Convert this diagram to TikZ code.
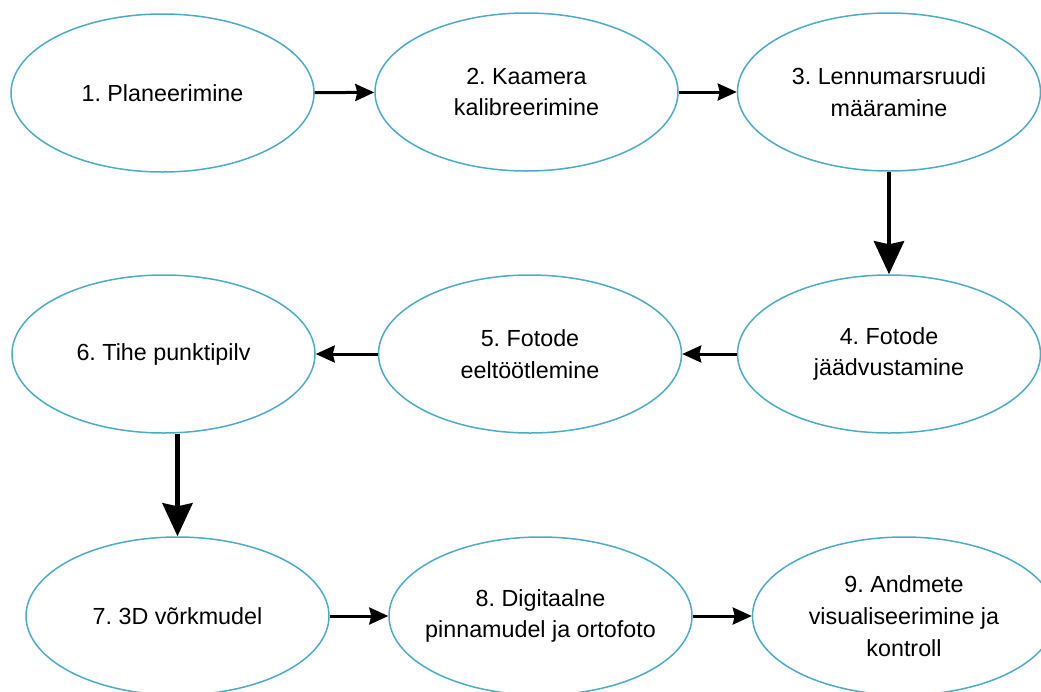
\documentclass[tikz,border=0pt]{standalone}
\usepackage{fontspec}
\setmainfont{Liberation Sans}
\frenchspacing
\usetikzlibrary{shapes.geometric,arrows.meta}
\definecolor{ringblue}{HTML}{4BACC6}
\tikzset{
  stage/.style={ellipse,draw=ringblue,line width=1.5pt,minimum width=303pt,minimum height=158pt,
    inner xsep=-40pt,inner ysep=0pt,align=center,font=\fontsize{23.3}{31.7}\selectfont},
  flow/.style={line width=3pt,-{Stealth[length=19pt,width=17pt,inset=2pt]}},
  bigflow/.style={line width=4.5pt,-{Stealth[length=33pt,width=30pt,inset=3pt]}}
}
\begin{document}
\begin{tikzpicture}[x=1pt,y=-1pt]
\useasboundingbox (0,0) rectangle (1041,691);
%first row
\node[stage] (plan) at (162.5,93) {1. Planeerimine};
\node[stage] (calib) at (526.5,92) {2. Kaamera\\kalibreerimine};
\node[stage] (route) at (889,92) {3. Lennumarsruudi\\määramine};
%second row
\node[stage] (shoot) at (889,354) {4. Fotode\\jäädvustamine};
\node[stage] (prep) at (530,354) {5. Fotode\\eeltöötlemine};
\node[stage] (cloud) at (163.5,354) {6. Tihe punktipilv};
%third row
\node[stage] (mesh) at (177.5,616) {7. 3D võrkmudel};
\node[stage] (dsm) at (540.5,616) {8. Digitaalne\\pinnamudel ja ortofoto};
\node[stage] (viz) at (904,616) {9. Andmete\\visualiseerimine ja\\kontroll};
%flow arrows
\draw[flow] (plan) -- (calib);
\draw[flow] (calib) -- (route);
\draw[bigflow] (route) -- (shoot);
\draw[flow] (shoot) -- (prep);
\draw[flow] (prep) -- (cloud);
\draw[bigflow] (cloud.south -| mesh.north) -- (mesh);
\draw[flow] (mesh) -- (dsm);
\draw[flow] (dsm) -- (viz);
\end{tikzpicture}
\end{document}
